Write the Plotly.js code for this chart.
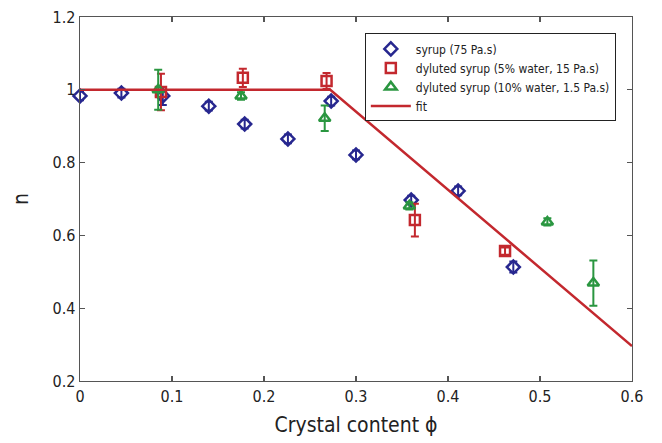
<!DOCTYPE html>
<html><head><meta charset="utf-8">
<script src="https://cdn.plot.ly/plotly-3.0.1.min.js"></script>
<style>body{margin:0;background:#fff}#c{width:662px;height:443px}</style>
</head><body><div id="c"></div>
<script>
// syrup (75 Pa.s)
const syrupPhi = [0.0, 0.045, 0.09, 0.140, 0.179, 0.226, 0.273, 0.300, 0.360, 0.411, 0.471];
const syrupN   = [0.983, 0.991, 0.983, 0.955, 0.906, 0.865, 0.969, 0.821, 0.697, 0.722, 0.513];
const syrupErr = [0.012, 0.012, 0.025, 0.012, 0.012, 0.012, 0.012, 0.012, 0.012, 0.012, 0.015];
// dyluted syrup (5% water, 15 Pa.s)
const dil5Phi = [0.088, 0.177, 0.268, 0.364, 0.462];
const dil5N   = [0.994, 1.033, 1.024, 0.642, 0.557];
const dil5Err = [0.05, 0.025, 0.022, 0.045, 0.01];
// dyluted syrup (10% water, 1.5 Pa.s)
const dil10Phi = [0.085, 0.175, 0.266, 0.358, 0.508, 0.558];
const dil10N   = [1.0, 0.983, 0.922, 0.681, 0.637, 0.469];
const dil10Err = [0.055, 0.01, 0.035, 0.01, 0.01, 0.062];
// fit
const fitPhi = [0.0, 0.272, 0.6];
const fitN   = [1.0, 1.0, 0.296];

const blue = '#27278f', red = '#c3282e', green = '#2a9640';
const font = "'Liberation Sans Narrow', 'DejaVu Sans Condensed', 'Liberation Sans', sans-serif";

function pts(name, x, y, err, sym, col) {
  return {
    type: 'scatter', mode: 'markers', name: name, x: x, y: y,
    error_y: {type: 'data', array: err, visible: true, color: col, thickness: 2, width: 4},
    marker: {symbol: sym, size: 10, color: col, line: {color: col, width: 2.5}},
    cliponaxis: false
  };
}

const data = [
  pts('syrup (75 Pa.s)', syrupPhi, syrupN, syrupErr, 'diamond-open', blue),
  pts('dyluted syrup (5% water, 15 Pa.s)', dil5Phi, dil5N, dil5Err, 'square-open', red),
  pts('dyluted syrup (10% water, 1.5 Pa.s)', dil10Phi, dil10N, dil10Err, 'triangle-up-open', green),
  {type: 'scatter', mode: 'lines', name: 'fit', x: fitPhi, y: fitN,
   line: {color: red, width: 2.5}, cliponaxis: true}
];

const axisCommon = {
  showline: true, linecolor: '#555', linewidth: 1.3, mirror: 'ticks',
  ticks: 'inside', ticklen: 5, tickcolor: '#555', tickwidth: 1.3,
  showgrid: false, zeroline: false,
  tickfont: {family: font, size: 16, color: '#222'}
};

const layout = {
  width: 662, height: 443,
  margin: {l: 80, r: 30, t: 17, b: 62},
  paper_bgcolor: '#fff', plot_bgcolor: '#fff',
  showlegend: true,
  font: {family: font, color: '#222'},
  xaxis: Object.assign({}, axisCommon, {
    range: [0, 0.6], tickvals: [0, 0.1, 0.2, 0.3, 0.4, 0.5, 0.6],
    ticktext: ['0', '0.1', '0.2', '0.3', '0.4', '0.5', '0.6'],
    title: {text: 'Crystal content ϕ', font: {family: font, size: 21, color: '#222'}, standoff: 12}
  }),
  yaxis: Object.assign({}, axisCommon, {
    range: [0.2, 1.2], tickvals: [0.2, 0.4, 0.6, 0.8, 1.0, 1.2],
    ticktext: ['0.2', '0.4', '0.6', '0.8', '1', '1.2'],
    title: {text: 'n', font: {family: font, size: 21, color: '#222'}, standoff: 18}
  }),
  legend: {
    x: 0.516, y: 0.955, xanchor: 'left', yanchor: 'top',
    bgcolor: '#fff', bordercolor: '#222', borderwidth: 1,
    font: {family: font, size: 12, color: '#222'},
    tracegroupgap: 0, itemwidth: 40
  }
};

Plotly.newPlot('c', data, layout, {displayModeBar: false, staticPlot: true});
</script>
</body></html>
